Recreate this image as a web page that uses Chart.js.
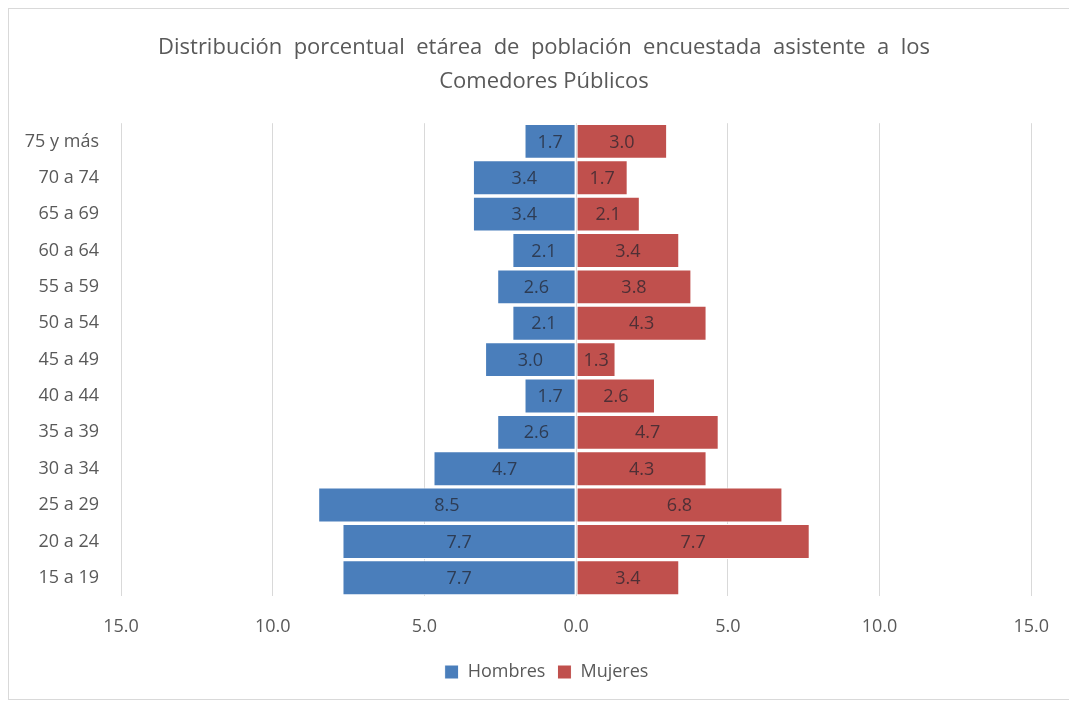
<!DOCTYPE html>
<html>
<head>
<meta charset="utf-8">
<script src="https://cdn.jsdelivr.net/npm/chart.js@4"></script>
<style>
    html, body { margin: 0; padding: 0; background: #fff; overflow: hidden; }
    #frame {
        position: absolute; left: 8px; top: 8px; width: 1100px; height: 692px;
        border: 1px solid #d9d9d9; box-sizing: border-box;
    }
    #wrap { position: absolute; left: 0; top: 0; width: 1069px; height: 701px; }
</style>
</head>
<body>
<div id="frame"></div>
<div id="wrap"><canvas id="pyramid-chart" width="1069" height="701"></canvas></div>
<script>
// Age groups, top to bottom
const ageGroups = ['75 y más', '70 a 74', '65 a 69', '60 a 64', '55 a 59', '50 a 54', '45 a 49',
    '40 a 44', '35 a 39', '30 a 34', '25 a 29', '20 a 24', '15 a 19'];
const hombres = [1.7, 3.4, 3.4, 2.1, 2.6, 2.1, 3.0, 1.7, 2.6, 4.7, 8.5, 7.7, 7.7];
const mujeres = [3.0, 1.7, 2.1, 3.4, 3.8, 4.3, 1.3, 2.6, 4.7, 4.3, 6.8, 7.7, 3.4];
const xTicks = [-15, -10, -5, 0, 5, 10, 15];

const FONT = "'Open Sans', 'DejaVu Sans', sans-serif";

// Draw the value in the middle of each bar
const barLabels = {
    id: 'barLabels',
    afterDatasetsDraw(chart) {
        const ctx = chart.ctx;
        ctx.save();
        ctx.font = '18px ' + FONT;
        ctx.fillStyle = 'rgba(35, 35, 45, 0.72)';
        ctx.textAlign = 'center';
        ctx.textBaseline = 'middle';
        chart.data.datasets.forEach((ds, i) => {
            chart.getDatasetMeta(i).data.forEach((bar, j) => {
                const p = bar.getProps(['x', 'y', 'base'], true);
                ctx.fillText(Math.abs(ds.data[j]).toFixed(1), (p.x + p.base) / 2, p.y + 1);
            });
        });
        ctx.restore();
    }
};

// Title and legend are centred on the plot, not on the whole canvas
const centerOnPlot = {
    id: 'centerOnPlot',
    afterLayout(chart) {
        const shift = 46;
        chart.titleBlock.left += shift;
        chart.legend.left += shift + 5;
    }
};

new Chart(document.getElementById('pyramid-chart').getContext('2d'), {
    type: 'bar',
    data: {
        labels: ageGroups,
        datasets: [{
            label: 'Hombres',
            data: hombres.map(v => -v),
            backgroundColor: '#4a7ebb',
            borderColor: '#ffffff',
            borderWidth: 1,
            borderSkipped: false
        }, {
            label: 'Mujeres',
            data: mujeres,
            backgroundColor: '#c0504d',
            borderColor: '#ffffff',
            borderWidth: 1,
            borderSkipped: false
        }]
    },
    options: {
        indexAxis: 'y',
        responsive: false,
        animation: false,
        datasets: { bar: { barPercentage: 1, categoryPercentage: 0.96 } },
        layout: { padding: { left: 10, right: 37, top: 23, bottom: 10 } },
        scales: {
            x: {
                stacked: true,
                min: -15,
                max: 15,
                afterBuildTicks: scale => { scale.ticks = xTicks.map(v => ({ value: v })); },
                afterFit: scale => { scale.height = 55; },
                grid: { color: '#d9d9d9', drawTicks: false },
                border: { display: false },
                ticks: {
                    padding: 20,
                    color: '#595959',
                    font: { family: FONT, size: 18 },
                    callback: v => Math.abs(v).toFixed(1)
                }
            },
            y: {
                stacked: true,
                afterFit: scale => { scale.width = 111; },
                grid: { display: false },
                border: { display: false },
                ticks: {
                    padding: 14,
                    color: '#595959',
                    font: { family: FONT, size: 18 }
                }
            }
        },
        plugins: {
            title: {
                display: true,
                text: ['Distribución  porcentual  etárea  de  población  encuestada  asistente  a  los', 'Comedores Públicos'],
                color: '#595959',
                font: { family: FONT, size: 22, weight: 'normal', lineHeight: 1.55 },
                padding: { top: 8, bottom: 24 }
            },
            legend: {
                position: 'bottom',
                labels: {
                    color: '#595959',
                    font: { family: FONT, size: 18 },
                    boxWidth: 14,
                    boxHeight: 14,
                    padding: 12
                }
            },
            tooltip: { enabled: false }
        }
    },
    plugins: [barLabels, centerOnPlot]
});
</script>
</body>
</html>
